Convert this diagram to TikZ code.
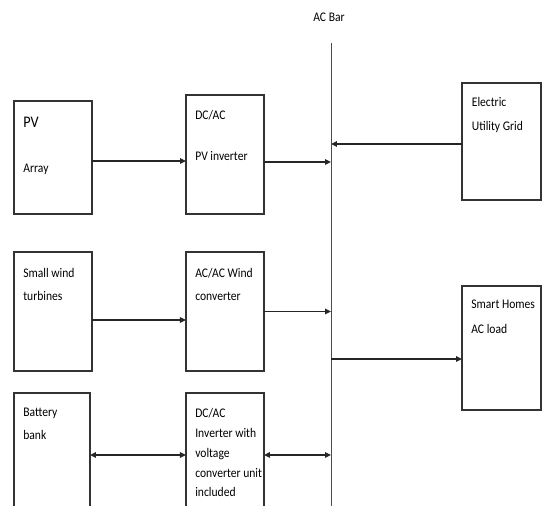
\documentclass[tikz,border=0pt]{standalone}
\usepackage{fontspec}
\setmainfont{Carlito}[FakeStretch=0.88]
\usetikzlibrary{arrows.meta,positioning}
\tikzset{
  blk/.style={draw=black!80,line width=0.75pt,minimum width=1.56cm,inner sep=0pt,outer sep=0pt},
  txt/.style={anchor=north west,align=left,inner sep=0pt,text=black,font=\fontsize{7.5}{13}\selectfont},
  ar/.style={-{Triangle[length=1.2mm,width=1.1mm]},line width=0.9pt,black!85},
  dar/.style={{Triangle[length=1.2mm,width=1.1mm]}-{Triangle[length=1.2mm,width=1.1mm]},line width=0.9pt,black!85},
  busline/.style={draw=black!70,line width=0.5pt}
}
\begin{document}
\begin{tikzpicture}[x=0.02cm,y=-0.02cm]
\useasboundingbox (0,0) rectangle (542,506);
\clip (0,0) rectangle (542,506);
% blocks
\node[blk,anchor=north west,minimum height=2.26cm] (pv) at (14,101) {};
\node[blk,anchor=north west,minimum height=2.38cm] (pvinv) at (186,95) {};
\node[blk,anchor=north west,minimum width=1.58cm,minimum height=2.34cm] (grid) at (462,83) {};
\node[blk,anchor=north west,minimum height=2.38cm] (turb) at (14,252) {};
\node[blk,minimum height=2.38cm,right=1.88cm of turb] (windconv) {};
\node[blk,anchor=north west,minimum width=1.58cm,minimum height=2.48cm] (homes) at (462,286) {};
\node[blk,anchor=north west,minimum width=1.52cm,minimum height=2.48cm] (batt) at (14,393) {};
\node[blk,minimum height=2.48cm,right=1.92cm of batt] (batinv) {};
% labels
\node[txt,below right=0.32cm and 0.18cm of pv.north west] (pvlbl) {{\fontsize{9.2}{11}\selectfont PV}\\[12.5pt]Array};
\node[txt,below right=0.30cm and 0.18cm of pvinv.north west] (pvinvlbl) {DC/AC\\[10.2pt]PV inverter};
\node[txt,below right=0.28cm and 0.19cm of grid.north west] (gridlbl) {Electric\\[0.6pt]Utility Grid};
\node[txt,below right=0.32cm and 0.18cm of turb.north west] (turblbl) {Small wind\\turbines};
\node[txt,below right=0.32cm and 0.18cm of windconv.north west] (windconvlbl) {AC/AC Wind\\converter};
\node[txt,below right=0.28cm and 0.18cm of homes.north west] (homeslbl) {Smart Homes\\[1pt]AC load};
\node[txt,below right=0.30cm and 0.18cm of batt.north west] (battlbl) {Battery\\bank};
\node[txt,font=\fontsize{7.5}{11.3}\selectfont,below right=0.30cm and 0.18cm of batinv.north west] (batinvlbl) {DC/AC\\Inverter with\\voltage\\converter unit\\included};
\node[txt,anchor=base] (acbar) at (329,22) {AC Bar};
% AC bar
\coordinate (bus) at (331,43);
\coordinate (busend) at (331,506);
\draw[busline] (bus) -- (busend);
% connections
\draw[ar] ([yshift=-0.07cm]pv.east) -- ([yshift=-0.07cm]pv.east -| pvinv.west);
\draw[ar] ([yshift=-0.15cm]pvinv.east) -- ([yshift=-0.15cm]pvinv.east -| bus);
\draw[ar] ([yshift=-0.05cm]grid.west) -- ([yshift=-0.05cm]grid.west -| bus);
\draw[ar] ([yshift=-0.17cm]turb.east) -- ([yshift=-0.17cm]turb.east -| windconv.west);
\draw[ar] (windconv.east) -- (windconv.east -| bus);
\draw[ar] ([yshift=-0.22cm]homes.west -| bus) -- ([yshift=-0.22cm]homes.west);
\draw[dar] (batt) -- (batinv);
\draw[dar] (batinv) -- (batinv -| bus);
\end{tikzpicture}
\end{document}
